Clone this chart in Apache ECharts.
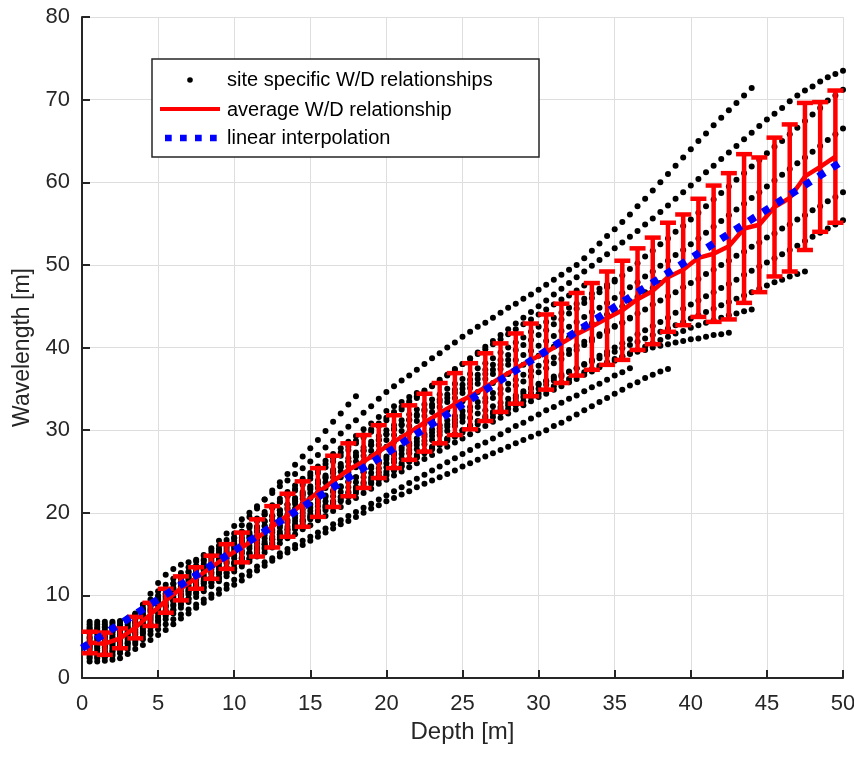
<!DOCTYPE html>
<html>
<head>
<meta charset="utf-8">
<script src="https://cdn.jsdelivr.net/npm/echarts@6/dist/echarts.min.js"></script>
<style>
html,body{margin:0;padding:0;background:#ffffff;}
#chart{width:854px;height:758px;}
</style>
</head>
<body>
<div id="chart"></div>
<script>
// Sampling depths of the site specific W/D relationships [m]
const depths = [
0.5,1,1.5,2,2.5,3,3.5,4,4.5,5,
5.5,6,6.5,7,7.5,8,8.5,9,9.5,10,
10.5,11,11.5,12,12.5,13,13.5,14,14.5,15,
15.5,16,16.5,17,17.5,18,18.5,19,19.5,20,
20.5,21,21.5,22,22.5,23,23.5,24,24.5,25,
25.5,26,26.5,27,27.5,28,28.5,29,29.5,30,
30.5,31,31.5,32,32.5,33,33.5,34,34.5,35,
35.5,36,36.5,37,37.5,38,38.5,39,39.5,40,
40.5,41,41.5,42,42.5,43,43.5,44,44.5,45,
45.5,46,46.5,47,47.5,48,48.5,49,49.5,50];

// Site specific wavelengths [m] (one value per depth above, as far as each site reaches)
const siteA = [
5.5,5.5,5.5,5.6,6.0,6.8,7.8,8.9,10.2,11.5,
12.5,13.2,13.7,14.0,14.3,14.8,15.4,16.0,16.7,17.5,
18.5,19.5,20.5,21.6,22.7,23.7,24.7,25.8,26.8,27.8,
28.8,29.9,31.0,32.0,33.1,34.1];
const siteB = [
6.8,6.8,6.8,6.8,6.9,7.2,7.7,8.5,9.5,10.5,
11.3,12.0,12.7,13.4,14.1,14.9,15.7,16.6,17.5,18.4,
19.2,20.0,20.8,21.6,22.4,23.2,23.9,24.7,25.4,26.2,
27.0,27.9,28.7,29.6,30.4,31.2,32.1,32.9,33.8,34.6,
35.3,36.0,36.6,37.3,38.0,38.7,39.3,40.0,40.6,41.3,
41.9,42.5,43.0,43.6,44.2,44.8,45.3,45.9,46.4,47.0,
47.6,48.2,48.8,49.4,50.0,50.8,51.7,52.6,53.5,54.3,
55.2,56.1,57.1,58.0,59.0,60.0,61.0,62.0,63.0,64.0,
65.0,65.9,66.9,67.8,68.7,69.6,70.5,71.4];
const siteC = [
6.2,6.2,6.2,6.3,6.5,6.9,7.5,8.2,9.0,9.8,
10.6,11.4,12.1,12.9,13.6,14.3,15.0,15.6,16.3,17.0,
17.7,18.4,19.1,19.8,20.6,21.3,22.0,22.7,23.4,24.1,
24.8,25.5,26.2,26.9,27.6,28.4,29.1,29.8,30.5,31.2,
31.9,32.5,33.2,33.9,34.6,35.3,35.9,36.6,37.3,38.0,
38.7,39.4,40.1,40.8,41.5,42.2,42.9,43.6,44.3,45.0,
45.7,46.4,47.1,47.8,48.5,49.2,49.9,50.6,51.3,52.0,
52.7,53.4,54.1,54.9,55.6,56.4,57.2,58.0,58.8,59.6,
60.4,61.2,62.0,62.8,63.6,64.4,65.2,66.0,66.8,67.6,
68.3,69.0,69.8,70.5,71.1,71.6,72.2,72.7,73.1,73.5];
const siteD = [
5.4,5.4,5.5,5.6,5.8,6.2,6.8,7.6,8.4,9.2,
9.9,10.6,11.4,12.1,12.8,13.5,14.2,14.9,15.6,16.3,
17.0,17.6,18.3,19.0,19.6,20.3,21.0,21.6,22.3,23.0,
23.6,24.3,24.9,25.6,26.2,26.9,27.5,28.2,28.8,29.5,
30.1,30.7,31.3,31.9,32.5,33.1,33.7,34.3,34.9,35.5,
36.1,36.7,37.3,37.9,38.5,39.1,39.7,40.3,40.9,41.5,
42.1,42.8,43.4,44.1,44.7,45.4,46.0,46.7,47.3,48.0,
48.7,49.5,50.2,51.0,51.7,52.5,53.2,54.0,54.7,55.5,
56.3,57.1,57.9,58.7,59.5,60.3,61.1,61.9,62.7,63.5,
64.3,65.0,65.8,66.6,67.4,68.2,69.0,69.9,70.5,71.2];
const siteE = [
4.8,4.8,4.9,5.0,5.3,5.8,6.4,7.1,8.0,8.8,
9.5,10.2,10.9,11.6,12.3,13.0,13.7,14.4,15.1,15.8,
16.5,17.1,17.8,18.4,19.1,19.8,20.4,21.1,21.7,22.4,
23.0,23.7,24.3,25.0,25.6,26.2,26.9,27.5,28.2,28.8,
29.4,29.9,30.5,31.1,31.7,32.2,32.8,33.4,33.9,34.5,
35.1,35.6,36.2,36.8,37.4,37.9,38.5,39.1,39.6,40.2,
40.8,41.4,42.0,42.5,43.1,43.7,44.3,44.8,45.4,46.0,
46.6,47.3,47.9,48.6,49.2,49.9,50.5,51.2,51.8,52.5,
53.2,53.9,54.6,55.3,56.0,56.7,57.4,58.1,58.8,59.5,
60.2,60.9,61.6,62.3,63.0,63.7,64.4,65.1,65.8,66.5];
const siteF = [
4.0,4.0,4.1,4.3,4.6,5.1,5.7,6.4,7.2,8.0,
8.7,9.4,10.1,10.8,11.5,12.2,12.8,13.5,14.1,14.8,
15.4,16.0,16.7,17.3,17.9,18.5,19.1,19.8,20.4,21.0,
21.6,22.1,22.7,23.2,23.8,24.3,24.9,25.4,26.0,26.5,
27.0,27.6,28.1,28.6,29.2,29.7,30.2,30.7,31.3,31.8,
32.3,32.8,33.4,33.9,34.4,34.9,35.4,35.9,36.5,37.0,
37.5,38.1,38.6,39.2,39.7,40.3,40.8,41.4,41.9,42.5,
43.0,43.6,44.1,44.6,45.2,45.7,46.2,46.7,47.3,47.8,
48.3,48.9,49.4,50.0,50.5,51.1,51.6,52.2,52.7,53.3,
53.8,54.4,54.9,55.5,56.0,56.6,57.1,57.7,58.2,58.8];
const siteG = [
3.3,3.3,3.4,3.6,3.9,4.4,5.0,5.7,6.5,7.3,
8.0,8.7,9.4,10.1,10.8,11.4,12.0,12.6,13.2,13.8,
14.4,15.0,15.6,16.2,16.8,17.4,18.0,18.6,19.2,19.8,
20.3,20.9,21.4,21.9,22.4,23.0,23.5,24.0,24.5,25.0,
25.5,26.0,26.5,27.0,27.5,28.0,28.5,29.0,29.5,30.0,
30.5,31.0,31.5,32.0,32.5,33.0,33.5,34.0,34.5,35.0,
35.5,36.0,36.5,37.0,37.5,38.0,38.5,39.0,39.5,40.0,
40.5,41.0,41.6,42.1,42.6,43.1,43.6,44.2,44.7,45.2,
45.7,46.2,46.7,47.2,47.7,48.2,48.8,49.3,49.8,50.3,
50.8,51.3,51.8,52.3,52.9,53.4,53.9,54.4,54.9,55.4];
const siteH = [
2.9,2.9,3.0,3.2,3.6,4.1,4.7,5.4,6.1,6.8,
7.5,8.2,8.9,9.6,10.3,11.0,11.6,12.1,12.7,13.2,
13.8,14.4,15.0,15.6,16.2,16.8,17.4,18.0,18.6,19.2,
19.7,20.3,20.8,21.4,21.9,22.4,23.0,23.5,24.0,24.5,
25.1,25.6,26.2,26.7,27.3,27.8,28.4,28.9,29.5,30.0,
30.6,31.1,31.7,32.2,32.8,33.3,33.9,34.4,35.0,35.5,
35.9,36.3,36.7,37.1,37.5,37.9,38.3,38.7,39.1,39.5,
39.9,40.3,40.7,41.1,41.5,41.9,42.3,42.7,43.1,43.5,
43.9,44.3,44.7,45.1,45.5,45.9,46.3,46.7,47.1,47.5,
47.9,48.2,48.6,48.9,49.2];
const siteI = [
2.6,2.6,2.7,2.9,3.3,3.8,4.4,5.0,5.7,6.4,
7.1,7.8,8.5,9.2,9.8,10.5,11.1,11.7,12.3,12.9,
13.5,14.1,14.7,15.2,15.8,16.3,16.9,17.4,18.0,18.5,
19.1,19.6,20.2,20.7,21.3,21.8,22.4,22.9,23.5,24.0,
24.5,25.0,25.5,26.0,26.5,27.0,27.5,28.0,28.5,29.0,
29.5,30.0,30.5,31.0,31.5,32.0,32.5,33.0,33.5,34.0,
34.4,34.9,35.3,35.8,36.2,36.7,37.1,37.6,38.0,38.4,
38.9,39.3,39.7,40.1,40.5,40.9,41.3,41.7,42.0,42.4,
42.7,43.0,43.3,43.6,43.9,44.1,44.4,44.6];
const siteJ = [
4.5,4.5,4.6,4.8,5.1,5.6,6.2,6.9,7.6,8.4,
9.1,9.8,10.5,11.2,11.9,12.5,13.2,13.9,14.5,15.2,
15.9,16.5,17.2,17.8,18.5,19.2,19.8,20.5,21.1,21.8,
22.4,23.0,23.7,24.3,24.9,25.5,26.2,26.8,27.4,28.0,
28.6,29.1,29.7,30.2,30.8,31.3,31.9,32.4,33.0,33.5,
34.1,34.6,35.2,35.7,36.3,36.8,37.4,37.9,38.5,39.0,
39.6,40.1,40.7,41.2,41.8,42.3,42.9,43.4,44.0,44.5,
45.0,45.6,46.1,46.7,47.2,47.8];
const siteK = [
3.8,3.8,3.9,4.1,4.4,4.9,5.5,6.2,7.0,7.9,
8.6,9.3,10.0,10.6,11.3,11.9,12.6,13.2,13.9,14.5,
15.1,15.7,16.3,16.9,17.6,18.2,18.8,19.4,20.0,20.6,
21.2,21.9,22.5,23.1,23.7,24.3,24.9,25.6,26.2,26.8,
27.3,27.9,28.4,29.0,29.5,30.1,30.6,31.2,31.7,32.3,
32.8,33.4,33.9,34.5,35.0,35.6,36.1,36.7,37.2,37.8,
38.3,38.8,39.2,39.7,40.2,40.7,41.1,41.6,42.1,42.6,
43.0,43.5];
const siteL1 = [
2.0,2.0,2.1,2.2,2.4,2.9,3.5,4.0,4.6,5.2,
5.8,6.5,7.2,7.8,8.5,9.1,9.7,10.2,10.8,11.3,
11.8,12.4,13.0,13.6,14.2,14.7,15.2,15.7,16.1,16.6,
17.1,17.6,18.1,18.6,19.0,19.5,20.0,20.5,20.9,21.4,
21.8,22.2,22.6,23.1,23.5,23.9,24.3,24.7,25.1,25.6,
26.0,26.4,26.8,27.2,27.6,28.0,28.4,28.8,29.2,29.6,
30.0,30.5,30.9,31.4,31.9,32.4,32.9,33.4,33.9,34.4,
34.9,35.4,35.8,36.3,36.7,37.1,37.4];
const siteL2 = [
2.4,2.4,2.5,2.7,3.0,3.5,4.1,4.7,5.3,5.9,
6.5,7.1,7.7,8.3,8.9,9.5,10.1,10.7,11.3,11.9,
12.4,12.9,13.5,14.0,14.5,15.1,15.6,16.1,16.6,17.1,
17.6,18.1,18.6,19.1,19.6,20.1,20.6,21.1,21.6,22.1,
22.6,23.1,23.6,24.1,24.6,25.1,25.6,26.1,26.6,27.1,
27.6,28.1,28.5,29.0,29.5,30.0,30.5,30.9,31.4,31.9,
32.4,32.8,33.3,33.8,34.2,34.7,35.2,35.6,36.1,36.6,
37.0,37.5];
const siteL3 = [
3.6,3.6,3.7,3.9,4.2,4.7,5.3,6.0,6.7,7.5,
8.2,8.9,9.6,10.3,10.9,11.5,12.1,12.7,13.3,13.9,
14.5,15.1,15.6,16.2,16.8,17.3,17.9,18.4,19.0,19.5,
20.0,20.6,21.1,21.6,22.1,22.7,23.2,23.7,24.2,24.7,
25.2,25.7,26.2,26.7,27.2,27.7,28.2,28.7,29.2,29.7,
30.2,30.7,31.2,31.6,32.1,32.6,33.0,33.5,34.0,34.4,
34.9,35.3,35.8,36.2,36.6,37.0,37.4,37.8,38.2,38.6,
38.9,39.2,39.5,39.7,40.0,40.2,40.4,40.6,40.8,41.0,
41.1,41.3,41.5,41.6,41.8];
const siteM = [
5.0,5.0,5.1,5.3,5.6,6.1,6.7,7.4,8.2,9.0,
9.7,10.4,11.1,11.8,12.5,13.2,13.9,14.6,15.3,16.0,
16.7,17.4,18.2,18.9,19.6,20.3,21.0,21.8,22.5,23.2,
23.9,24.5,25.2,25.9,26.6,27.3,27.9,28.6,29.3,30.0,
30.6,31.2,31.9,32.5,33.1,33.7,34.3,35.0,35.6,36.2,
36.8,37.5,38.1,38.7,39.4,40.0,40.6,41.2,41.9,42.5,
43.1,43.6,44.2,44.8,45.3,45.9,46.5,47.1,47.6,48.2];
const siteN = [
6.5,6.5,6.5,6.6,6.8,7.2,7.7,8.3,8.9,9.5,
10.2,10.9,11.6,12.3,13.0,13.8,14.5,15.2,15.9,16.6,
17.4,18.2,19.0,19.8,20.6,21.3,22.1,22.9,23.7,24.5,
25.2,25.9,26.6,27.3,28.0,28.7,29.4,30.1,30.8,31.5,
32.2,32.8,33.5,34.1,34.8,35.4,36.1,36.7,37.4,38.0,
38.6,39.2,39.8,40.4,41.0,41.6,42.2,42.8,43.4,44.0,
44.6,45.2,45.8,46.3,46.9,47.5];
const siteO = [
3.0,3.0,3.1,3.3,3.7,4.2,4.8,5.5,6.2,7.0,
7.7,8.3,9.0,9.6,10.3,10.9,11.5,12.1,12.7,13.3,
13.9,14.5,15.2,15.8,16.4,17.0,17.6,18.3,18.9,19.5,
20.1,20.7,21.3,21.9,22.5,23.1,23.7,24.3,24.9,25.5,
26.1,26.6,27.2,27.7,28.3,28.8,29.4,29.9,30.5,31.0,
31.5,32.0,32.4,32.9,33.3,33.8,34.2,34.7,35.1,35.6,
36.0,36.5];
const siteP = [
5.8,5.8,5.8,5.9,6.1,6.5,7.1,7.8,8.7,9.6,
10.2,10.8,11.4,12.0,12.6,13.2,13.8,14.3,14.9,15.5,
16.2,16.9,17.7,18.4,19.1,19.9,20.6,21.4,22.1,22.8,
23.5,24.2,24.8,25.5,26.2,26.8,27.5,28.2,28.8,29.5,
30.1,30.6,31.2,31.7,32.3,32.8,33.4,33.9,34.5,35.0,
35.6,36.2,36.8,37.3,37.9,38.5];
const siteQ = [
4.2,4.2,4.3,4.5,4.8,5.3,5.9,6.6,7.4,8.2,
8.8,9.4,10.0,10.5,11.1,11.7,12.2,12.8,13.4,14.0,
14.6,15.2,15.9,16.5,17.1,17.7,18.3,19.0,19.6,20.2,
20.8,21.4,22.0,22.5,23.1,23.7,24.3,24.8,25.4,26.0,
26.5,27.1,27.6,28.2,28.7,29.3,29.8,30.4,30.9,31.5];
const siteR = [
6.0,6.0,6.1,6.2,6.4,6.8,7.4,8.1,9.0,10.0,
10.7,11.4,12.1,12.8,13.5,14.2,14.8,15.5,16.2,16.9,
17.7,18.5,19.3,20.1,20.9,21.7,22.5,23.3,24.1,24.8,
25.6,26.3,27.1,27.8,28.6,29.3,30.1,30.8,31.6,32.3,
32.9,33.4,34.0,34.5];

// Average W/D relationship with its error bars (half length)
const avgDepths = [
0.5,1.5,2.5,3.5,4.5,5.5,6.5,7.5,8.5,9.5,
10.5,11.5,12.5,13.5,14.5,15.5,16.5,17.5,18.5,19.5,
20.5,21.5,22.5,23.5,24.5,25.5,26.5,27.5,28.5,29.5,
30.5,31.5,32.5,33.5,34.5,35.5,36.5,37.5,38.5,39.5,
40.5,41.5,42.5,43.5,44.5,45.5,46.5,47.5,48.5,49.5];
const avgW = [
4.3,4.15,4.8,6.1,7.7,9.35,10.85,12.1,13.4,14.7,
15.8,16.95,18.3,19.7,21.05,22.45,23.8,25.2,26.2,27.4,
28.6,29.7,30.9,32.05,33.15,34.1,35.2,36.35,37.45,38.5,
39.45,40.5,41.6,42.55,43.55,44.5,45.85,46.85,48.5,49.4,
50.85,51.35,52.25,54.4,54.85,57.0,58.1,60.7,61.85,63.1];
const errW = [
1.3,1.35,1.2,1.3,1.4,1.45,1.45,1.3,1.4,1.5,
1.8,2.25,2.5,2.6,2.75,2.95,3.1,3.2,3.2,3.2,
3.2,3.3,3.5,3.65,3.75,4.0,4.1,4.15,4.25,4.4,
4.55,4.8,5.0,5.25,5.65,6.0,6.15,6.45,6.6,6.7,
7.15,8.25,8.85,9.0,8.15,8.4,8.9,8.9,7.85,8.0];

// Linear interpolation end points
const interpDepths = [0, 50];
const interpW = [3.6, 62.6];

const xTicks = [0,5,10,15,20,25,30,35,40,45,50];
const yTicks = [0,10,20,30,40,50,60,70,80];

const FONT = '"Liberation Sans", Arial, Helvetica, sans-serif';
const AXIS_COLOR = '#262626';

const sites = [siteA, siteB, siteC, siteD, siteE, siteF, siteG, siteH, siteI,
  siteJ, siteK, siteL1, siteL2, siteL3, siteM, siteN, siteO, siteP, siteQ, siteR];
const scatterData = [];
sites.forEach(function (s) {
  s.forEach(function (w, i) { scatterData.push([depths[i], w]); });
});
const avgData = avgDepths.map(function (d, i) { return [d, avgW[i]]; });
const errData = avgDepths.map(function (d, i) { return [d, avgW[i], errW[i]]; });
const interpData = interpDepths.map(function (d, i) { return [d, interpW[i]]; });

function renderErr(params, api) {
  const x = api.value(0), m = api.value(1), e = api.value(2);
  const top = api.coord([x, m + e]);
  const bot = api.coord([x, m - e]);
  const hw = 8;
  const st = { stroke: '#ff0000', lineWidth: 4.5 };
  return {
    type: 'group',
    children: [
      { type: 'line', shape: { x1: top[0], y1: top[1], x2: bot[0], y2: bot[1] }, style: st },
      { type: 'line', shape: { x1: top[0] - hw, y1: top[1], x2: top[0] + hw, y2: top[1] }, style: st },
      { type: 'line', shape: { x1: bot[0] - hw, y1: bot[1], x2: bot[0] + hw, y2: bot[1] }, style: st }
    ]
  };
}

const chart = echarts.init(document.getElementById('chart'), null, { renderer: 'canvas' });
const option = {
  animation: false,
  backgroundColor: '#ffffff',
  grid: { left: 82, right: 11, top: 17, bottom: 80, containLabel: false, outerBoundsMode: 'none' },
  xAxis: {
    type: 'value', min: xTicks[0], max: xTicks[xTicks.length - 1], interval: 5,
    name: 'Depth [m]', nameLocation: 'middle', nameGap: 37,
    nameTextStyle: { fontSize: 24, color: AXIS_COLOR, fontFamily: FONT },
    axisLine: { show: true, onZero: false, lineStyle: { color: AXIS_COLOR, width: 2 } },
    axisTick: { show: true, inside: true, length: 8, lineStyle: { color: AXIS_COLOR, width: 2 } },
    axisLabel: { fontSize: 22, color: AXIS_COLOR, fontFamily: FONT, margin: 15, showMinLabel: true, showMaxLabel: true },
    splitLine: { show: true, lineStyle: { color: '#dedede', width: 1 } }
  },
  yAxis: {
    type: 'value', min: yTicks[0], max: yTicks[yTicks.length - 1], interval: 10,
    name: 'Wavelength [m]', nameLocation: 'middle', nameGap: 43,
    nameTextStyle: { fontSize: 23, color: AXIS_COLOR, fontFamily: FONT },
    axisLine: { show: true, onZero: false, lineStyle: { color: AXIS_COLOR, width: 2 } },
    axisTick: { show: true, inside: true, length: 8, lineStyle: { color: AXIS_COLOR, width: 2 } },
    axisLabel: { fontSize: 22, color: AXIS_COLOR, fontFamily: FONT, margin: 12, showMinLabel: true, showMaxLabel: true },
    splitLine: { show: true, lineStyle: { color: '#dedede', width: 1 } }
  },
  series: [
    {
      name: 'site specific W/D relationships', type: 'scatter', data: scatterData,
      symbol: 'circle', symbolSize: 6, itemStyle: { color: '#000000', opacity: 1 }, z: 2, silent: true
    },
    {
      name: 'error bars', type: 'custom', data: errData, renderItem: renderErr,
      encode: { x: 0, y: 1 }, z: 3, silent: true
    },
    {
      name: 'average W/D relationship', type: 'line', data: avgData, symbol: 'none', showSymbol: false,
      lineStyle: { color: '#ff0000', width: 4.5 }, z: 4, silent: true
    },
    {
      name: 'linear interpolation', type: 'line', data: interpData, symbol: 'none', showSymbol: false,
      lineStyle: { color: '#0000ff', width: 7.5, type: [7.5, 9], cap: 'butt' }, z: 5, silent: true
    }
  ],
  graphic: [
    { type: 'rect', shape: { x: 152, y: 59, width: 387, height: 98 }, style: { fill: '#ffffff', stroke: AXIS_COLOR, lineWidth: 1.5 }, z: 100 },
    { type: 'circle', shape: { cx: 190, cy: 80, r: 2.8 }, style: { fill: '#000000' }, z: 101 },
    { type: 'text', x: 227, y: 80, style: { text: 'site specific W/D relationships', font: '20px ' + FONT, fill: '#000000', align: 'left', verticalAlign: 'middle' }, z: 101 },
    { type: 'line', shape: { x1: 160, y1: 109, x2: 220, y2: 109 }, style: { stroke: '#ff0000', lineWidth: 4 }, z: 101 },
    { type: 'text', x: 227, y: 110, style: { text: 'average W/D relationship', font: '20px ' + FONT, fill: '#000000', align: 'left', verticalAlign: 'middle' }, z: 101 },
    { type: 'line', shape: { x1: 165, y1: 138, x2: 217, y2: 138 }, style: { stroke: '#0000ff', lineWidth: 6.7, lineDash: [6.7, 8.3] }, z: 101 },
    { type: 'text', x: 227, y: 138, style: { text: 'linear interpolation', font: '20px ' + FONT, fill: '#000000', align: 'left', verticalAlign: 'middle' }, z: 101 }
  ]
};
chart.setOption(option);
</script>
</body>
</html>
